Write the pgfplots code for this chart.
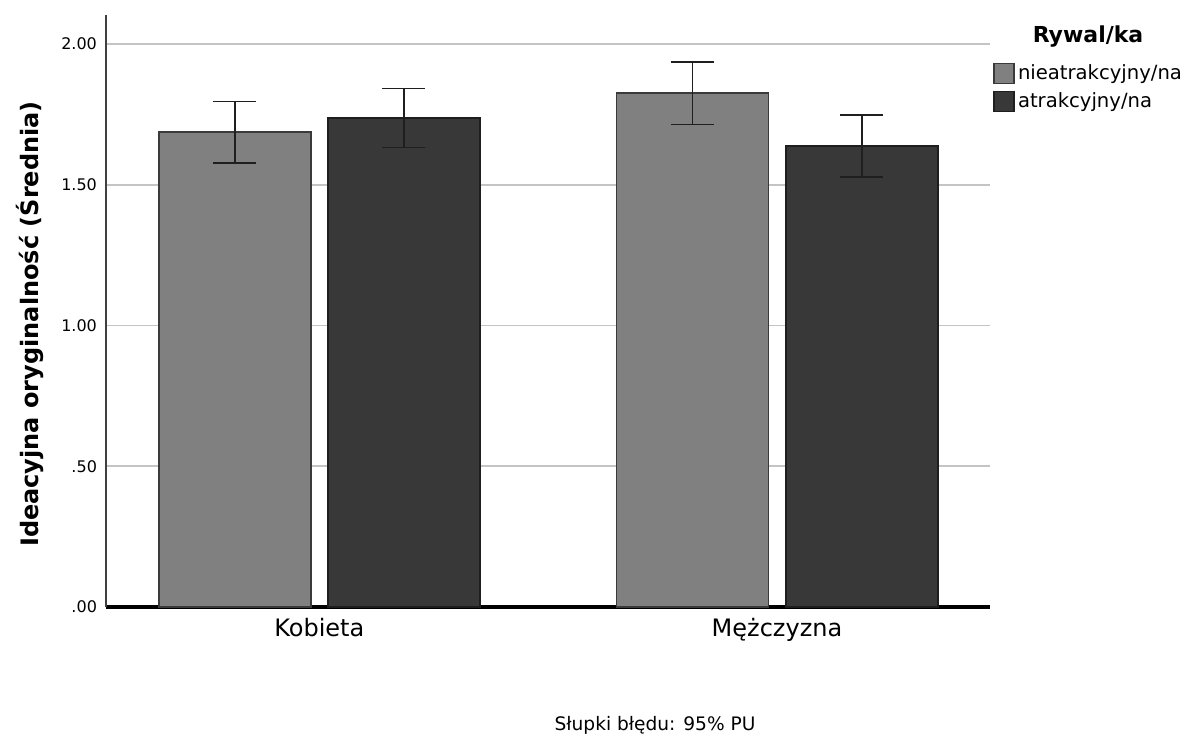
\documentclass[border=0pt]{standalone}
\usepackage{fontspec}
\setmainfont{DejaVu Sans}
\usepackage{pgfplots}
\pgfplotsset{compat=1.18}
\definecolor{barA}{HTML}{808080}
\definecolor{barB}{HTML}{383838}
\definecolor{edgeA}{HTML}{3A3A3A}
\definecolor{edgeB}{HTML}{1E1E1E}
\definecolor{gridc}{HTML}{C4C4C4}
\begin{document}
\begin{tikzpicture}
\useasboundingbox (-53pt,-64pt) rectangle (540.5pt,303.5pt);
\begin{axis}[
  at={(0,0)}, anchor=south west,
  scale only axis, width=442pt, height=296pt,
  xmin=-0.4659, xmax=1.4653, ymin=0, ymax=2.103,
  axis x line*=bottom, axis y line*=left,
  x axis line style={line width=2pt, black, -},
  y axis line style={line width=0.7pt, black!75, -},
  ytick={0,0.5,1,1.5,2}, yticklabels={.00,.50,1.00,1.50,2.00},
  xtick={0,1}, xticklabels={Kobieta, Mężczyzna},
  major tick length=0pt,
  ymajorgrids, grid style={gridc, line width=0.9pt},
  yticklabel style={font=\fontsize{8}{9.6}\selectfont, anchor=east, xshift=-1pt},
  xticklabel style={font=\fontsize{12}{14}\selectfont, yshift=-2pt},
  ylabel={Ideacyjna oryginalność (Średnia)},
  ylabel style={font=\bfseries\fontsize{12}{14}\selectfont, at={(rel axis cs:-0.086,0.478)}, anchor=center},
  ybar, bar shift=0pt, bar width=76pt,
  error bars/y dir=both, error bars/y explicit,
  error bars/error bar style={line width=0.9pt, black!88},
  error bars/error mark options={line width=0.9pt, black!88, mark size=10.75pt, rotate=90},
  legend style={at={(rel axis cs:1.0034,0.922)}, anchor=north west, draw=none, fill=none,
    inner sep=0pt, row sep=2pt, font=\fontsize{9.8}{11}\selectfont,
    nodes={inner sep=1.5pt, anchor=west}},
  legend image code/.code={\draw[#1, line width=0.8pt] (0pt,-5pt) rectangle (10pt,5pt);},
  legend cell align=left,
]
\addplot[fill=barA, draw=edgeA, line width=0.9pt] coordinates {
  (-0.1848,1.686) +- (0,0.110)
  (0.8152,1.825) +- (0,0.111)
};
\addlegendentry{nieatrakcyjny/na}
\addplot[fill=barB, draw=edgeB, line width=0.9pt] coordinates {
  (0.1848,1.737) +- (0,0.105)
  (1.1848,1.638) +- (0,0.110)
};
\addlegendentry{atrakcyjny/na}
\end{axis}
\node[font=\bfseries\fontsize{11}{13}\selectfont] at (491pt,285pt) {Rywal/ka};
\node[font=\fontsize{9.3}{11}\selectfont] at (274.5pt,-59pt) {Słupki błędu: 95\% PU};
\end{tikzpicture}
\end{document}
